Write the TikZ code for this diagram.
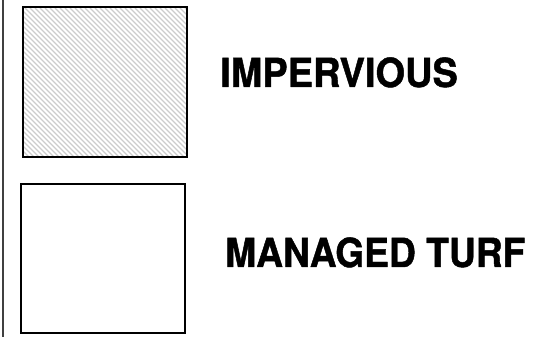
\documentclass[tikz,border=0pt]{standalone}
\usepackage{fontspec}
\setmainfont{TeX Gyre Heros}
\newfontfamily\lblfont{texgyreheros-bold.otf}[FakeBold=1.2]
\begin{document}
\begin{tikzpicture}[x=1pt,y=1pt,
  boxstyle/.style={draw=black,line width=2pt},
  labelstyle/.style={anchor=base west,inner sep=0pt,font=\fontsize{40}{40}\lblfont,transform shape}]
\useasboundingbox (0,0) rectangle (533,337);
\draw[line width=2pt,black!75] (2.5,0) -- (2.5,337);
\begin{scope}
\clip (22,179) rectangle (186,329);
\foreach \x in {-160,-155,...,190}{
  \draw[line width=1.4pt,black!20] (\x,329) -- ++(160,-160);
}
\end{scope}
\node[boxstyle,minimum width=164pt,minimum height=150pt,anchor=south west,inner sep=0pt] (imp) at (22,179) {};
\node[boxstyle,minimum width=164pt,minimum height=149pt,anchor=south west,inner sep=0pt] (turf) at (20,3) {};
\begin{scope}[xscale=0.95]
\node[labelstyle] (t1) at (220/0.95,250) {IMPERVIOUS};
\end{scope}
\begin{scope}[xscale=0.93]
\node[labelstyle] (t2) at (225/0.93,70) {MANAGED TURF};
\end{scope}
\end{tikzpicture}
\end{document}
